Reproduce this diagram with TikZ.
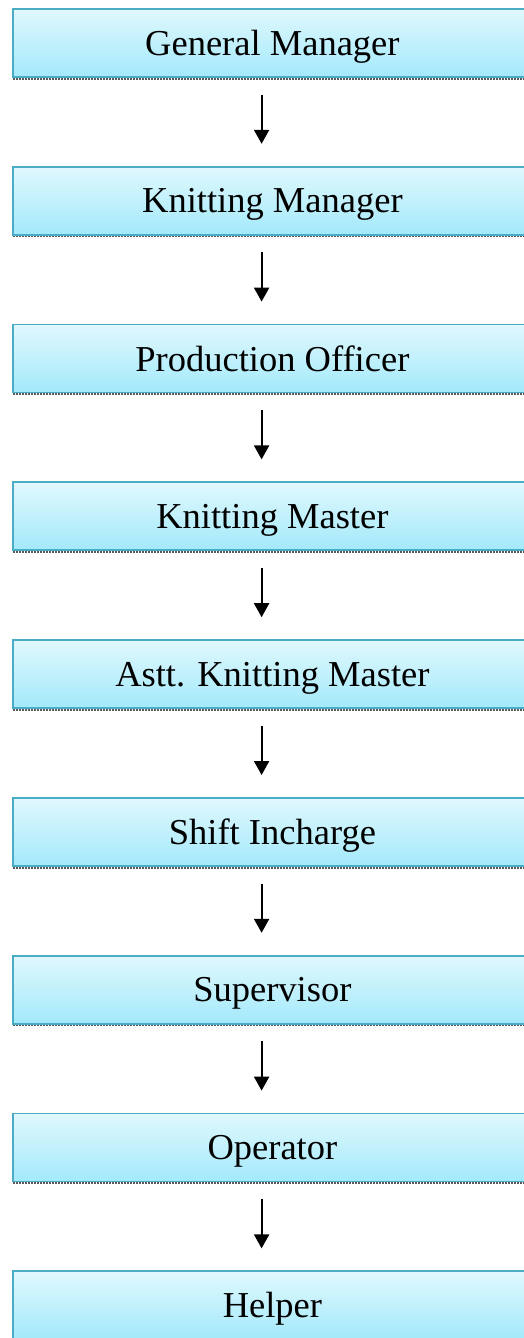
\documentclass[tikz,border=0pt]{standalone}
\usepackage{fontspec}
\setmainfont{Liberation Serif}
\usetikzlibrary{arrows.meta,calc}
\definecolor{boxtop}{HTML}{E0F8FD}
\definecolor{boxbot}{HTML}{A3E9FB}
\definecolor{boxline}{HTML}{4BACC6}
\tikzset{
  rolebox/.style={rectangle, anchor=north west, minimum width=519pt, minimum height=68pt,
    inner sep=0pt, top color=boxtop, bottom color=boxbot, draw=boxline, line width=1.8pt,
    font=\fontsize{36.5}{40}\selectfont, text depth=0pt},
  boxshadow/.style={draw=black!65, line width=3pt, dash pattern=on 1.5pt off 1.5pt},
  link/.style={line width=2.1pt, -{Triangle[length=14pt,width=15pt]}, shorten <=16.7pt, shorten >=22pt}
}
\begin{document}
\begin{tikzpicture}[x=1pt,y=-1pt]
  \useasboundingbox (0,0) rectangle (524,1338);
  \foreach \i/\name/\txt in {0/gm/General Manager,1/km/Knitting Manager,2/po/Production Officer,
      3/kma/Knitting Master,4/akm/Astt. Knitting Master,5/si/Shift Incharge,
      6/sup/Supervisor,7/op/Operator,8/hlp/Helper}{
    \draw[boxshadow] (13,{8+157.8*\i+70}) -- (531,{8+157.8*\i+70});
    \node[rolebox] (\name) at (12,{8+157.8*\i}) {\txt};
  }
  \foreach \a/\b in {gm/km,km/po,po/kma,kma/akm,akm/si,si/sup,sup/op,op/hlp}{
    \draw[link] ($(\a.south)+(-10.8,0)$) -- ($(\b.north)+(-10.8,0)$);
  }
\end{tikzpicture}
\end{document}
